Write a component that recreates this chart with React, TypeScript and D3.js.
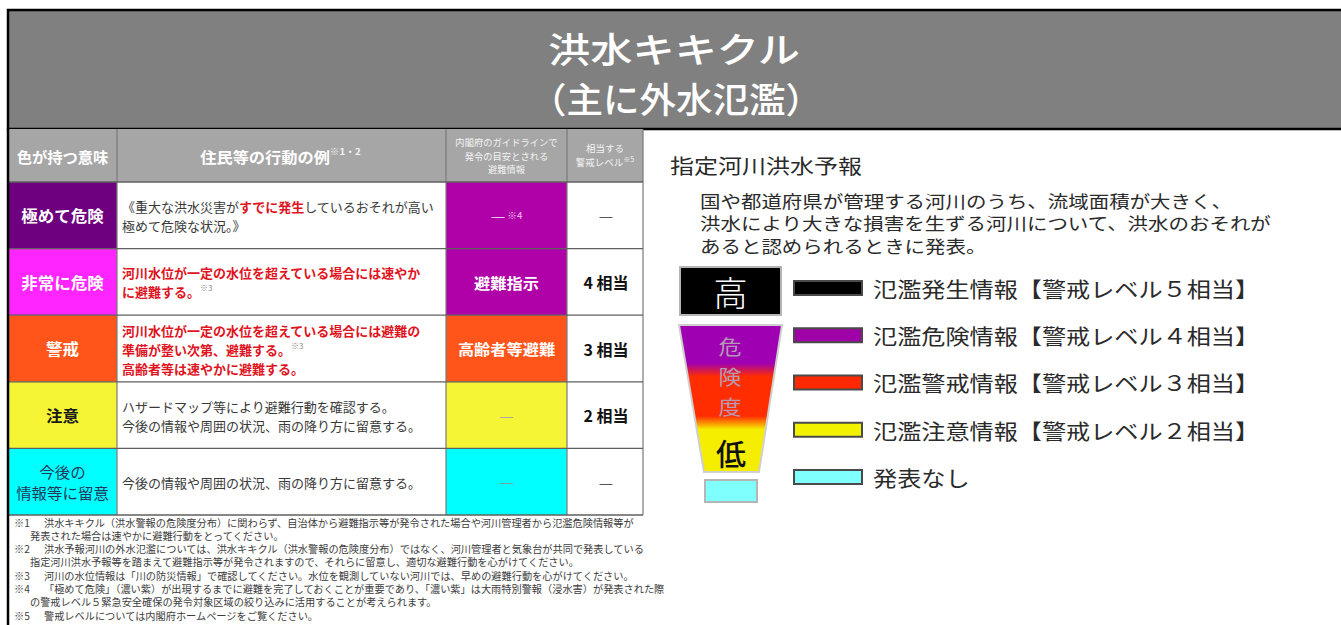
import React from 'react';
import * as d3 from 'd3';

const FONT = '"Noto Sans CJK JP", "Noto Sans CJK SC", "Noto Sans", sans-serif';

// ---------------- data ----------------
const TITLE = ['洪水キキクル', '（主に外水氾濫）'];

const HEAD_MEANING = '色が持つ意味';
const HEAD_ACTION = '住民等の行動の例';
const HEAD_ACTION_NOTE = '※1・2';
const HEAD_GUIDE = ['内閣府のガイドラインで', '発令の目安とされる', '避難情報'];
const HEAD_LEVEL = ['相当する', '警戒レベル'];
const HEAD_LEVEL_NOTE = '※5';

const MEANINGS = [['極めて危険'], ['非常に危険'], ['警戒'], ['注意'], ['今後の', '情報等に留意']];
const MEANING_FILL = ['#6e0080', '#ff25ff', '#ff541a', '#f5f536', '#00ffff'];
const MEANING_INK = ['#ffffff', '#ffffff', '#ffffff', '#1a1a1a', '#22385a'];
const MEANING_BOLD = [true, true, true, true, false];

type Seg = { t: string; k: 'n' | 'r' | 's' };
const ACTIONS: Seg[][][] = [
  [
    [{ t: '《重大な洪水災害が', k: 'n' }, { t: 'すでに発生', k: 'r' }, { t: 'しているおそれが高い', k: 'n' }],
    [{ t: '極めて危険な状況。》', k: 'n' }],
  ],
  [
    [{ t: '河川水位が一定の水位を超えている場合には速やか', k: 'r' }],
    [{ t: 'に避難する。', k: 'r' }, { t: '※3', k: 's' }],
  ],
  [
    [{ t: '河川水位が一定の水位を超えている場合には避難の', k: 'r' }],
    [{ t: '準備が整い次第、避難する。', k: 'r' }, { t: '※3', k: 's' }],
    [{ t: '高齢者等は速やかに避難する。', k: 'r' }],
  ],
  [
    [{ t: 'ハザードマップ等により避難行動を確認する。', k: 'n' }],
    [{ t: '今後の情報や周囲の状況、雨の降り方に留意する。', k: 'n' }],
  ],
  [[{ t: '今後の情報や周囲の状況、雨の降り方に留意する。', k: 'n' }]],
];

const GUIDE = ['—', '避難指示', '高齢者等避難', '—', '—'];
const GUIDE_NOTE = ['※4', '', '', '', ''];
const GUIDE_FILL = ['#b000a8', '#b000a8', '#ff541a', '#f5f536', '#00ffff'];
const GUIDE_INK = ['#f2c6ef', '#ffffff', '#ffffff', '#a8a8a8', '#6fa6a6'];
const LEVELS = ['—', '4 相当', '3 相当', '2 相当', '—'];
const LEVEL_BOLD = [false, true, true, true, false];

const PANEL_TITLE = '指定河川洪水予報';
const PANEL_DESC = [
  '国や都道府県が管理する河川のうち、流域面積が大きく、',
  '洪水により大きな損害を生ずる河川について、洪水のおそれが',
  'あると認められるときに発表。',
];
const SCALE_HIGH = '高';
const SCALE_MID = ['危', '険', '度'];
const SCALE_LOW = '低';
const SCALE_STOPS = [
  { o: 0, c: '#9e00b2' },
  { o: 0.26, c: '#9e00b2' },
  { o: 0.35, c: '#ff2d00' },
  { o: 0.62, c: '#ff2d00' },
  { o: 0.71, c: '#f6ee00' },
  { o: 1, c: '#f6ee00' },
];
const LEGEND_LABELS = [
  '氾濫発生情報【警戒レベル５相当】',
  '氾濫危険情報【警戒レベル４相当】',
  '氾濫警戒情報【警戒レベル３相当】',
  '氾濫注意情報【警戒レベル２相当】',
  '発表なし',
];
const LEGEND_COLORS = ['#000000', '#a000a8', '#ff2800', '#f2f200', '#80ffff'];

const FOOTNOTES = [
  { mark: '※1', lines: ['洪水キキクル（洪水警報の危険度分布）に関わらず、自治体から避難指示等が発令された場合や河川管理者から氾濫危険情報等が', '発表された場合は速やかに避難行動をとってください。'] },
  { mark: '※2', lines: ['洪水予報河川の外水氾濫については、洪水キキクル（洪水警報の危険度分布）ではなく、河川管理者と気象台が共同で発表している', '指定河川洪水予報等を踏まえて避難指示等が発令されますので、それらに留意し、適切な避難行動を心がけてください。'] },
  { mark: '※3', lines: ['河川の水位情報は「川の防災情報」で確認してください。水位を観測していない河川では、早めの避難行動を心がけてください。'] },
  { mark: '※4', lines: ['「極めて危険」（濃い紫）が出現するまでに避難を完了しておくことが重要であり、「濃い紫」は大雨特別警報（浸水害）が発表された際', 'の警戒レベル５緊急安全確保の発令対象区域の絞り込みに活用することが考えられます。'] },
  { mark: '※5', lines: ['警戒レベルについては内閣府ホームページをご覧ください。'] },
];

// ---------------- helpers ----------------
type TProps = {
  x: number; y: number; size: number; sx?: number; anchor?: 'start' | 'middle' | 'end';
  weight?: number; fill?: string; children?: React.ReactNode; len?: number;
};
function T({ x, y, size, sx = 1, anchor = 'start', weight = 400, fill = '#222', children, len }: TProps) {
  return (
    <text
      transform={`translate(${x},${y}) scale(${sx},1)`}
      fontSize={size}
      fontFamily={FONT}
      fontWeight={weight}
      fill={fill}
      textAnchor={anchor}
      dominantBaseline="central"
      {...(len ? { textLength: len, lengthAdjust: 'spacingAndGlyphs' } : {})}
    >
      {children}
    </text>
  );
}

const W = 1341;
const H = 625;
const COLS = [8, 117, 446, 567, 643];
const HEAD_TOP = 129;
const HEAD_BOTTOM = 182;
const TABLE_BOTTOM = 515;

export default function App() {
  const rowY = d3.scaleBand<number>().domain(d3.range(MEANINGS.length)).range([HEAD_BOTTOM, TABLE_BOTTOM]);
  const colMid = (i: number) => (COLS[i] + COLS[i + 1]) / 2;
  const legendY = d3.scalePoint<number>().domain(d3.range(LEGEND_LABELS.length)).range([288, 477]);
  const descY = d3.scalePoint<number>().domain(d3.range(PANEL_DESC.length)).range([200, 245]);
  const midY = d3.scalePoint<number>().domain(d3.range(SCALE_MID.length)).range([346, 406]);

  const footLines: { mark: string; text: string }[] = [];
  FOOTNOTES.forEach((f) => f.lines.forEach((l, i) => footLines.push({ mark: i === 0 ? f.mark : '', text: l })));
  const footY = d3.scaleLinear().domain([0, footLines.length - 1]).range([522, 615]);

  const rowH = rowY.bandwidth();
  const lineGap = 19;

  return (
    <svg width={W} height={H} style={{ position: 'absolute', left: 0, top: 0, background: '#fff' }}>
      <defs>
        <linearGradient id="danger" x1="0" y1="0" x2="0" y2="1">
          {SCALE_STOPS.map((s, i) => (
            <stop key={i} offset={s.o} stopColor={s.c} />
          ))}
        </linearGradient>
      </defs>
      <rect x={0} y={0} width={W} height={H} fill="#fff" />

      {/* title band */}
      <rect x={8} y={10} width={W + 10} height={119} fill="#808080" stroke="#000" strokeWidth={2.5} />
      <T x={674} y={47} size={35} weight={500} fill="#fff" anchor="middle" len={252}>{TITLE[0]}</T>
      <T x={676} y={97} size={35} weight={500} fill="#fff" anchor="middle" len={292}>{TITLE[1]}</T>

      {/* table header */}
      <rect x={COLS[0]} y={HEAD_TOP} width={COLS[4] - COLS[0]} height={HEAD_BOTTOM - HEAD_TOP} fill="#a6a6a6" />
      <T x={colMid(0)} y={156} size={15} weight={700} fill="#fff" anchor="middle" sx={1.02}>{HEAD_MEANING}</T>
      <T x={colMid(1) - 1} y={156} size={15} weight={700} fill="#fff" anchor="middle" sx={1.08}>
        {HEAD_ACTION}
        <tspan fontSize={9} dy={-5} fill="#f4f4f4">{HEAD_ACTION_NOTE}</tspan>
      </T>
      {HEAD_GUIDE.map((l, i) => (
        <T key={i} x={colMid(2)} y={142 + i * 13.5} size={9.3} fill="#f4f4f4" anchor="middle">{l}</T>
      ))}
      {HEAD_LEVEL.map((l, i) => (
        <T key={i} x={colMid(3)} y={148 + i * 14} size={9.5} fill="#f4f4f4" anchor="middle">
          {l}
          {i === HEAD_LEVEL.length - 1 && <tspan fontSize={7} dy={-3}>{HEAD_LEVEL_NOTE}</tspan>}
        </T>
      ))}

      {/* table rows */}
      {MEANINGS.map((m, r) => {
        const y0 = rowY(r)!;
        const cy = y0 + rowH / 2;
        const acts = ACTIONS[r];
        return (
          <g key={r}>
            <rect x={COLS[0]} y={y0} width={COLS[1] - COLS[0]} height={rowH} fill={MEANING_FILL[r]} />
            <rect x={COLS[1]} y={y0} width={COLS[2] - COLS[1]} height={rowH} fill="#fff" />
            <rect x={COLS[2]} y={y0} width={COLS[3] - COLS[2]} height={rowH} fill={GUIDE_FILL[r]} />
            <rect x={COLS[3]} y={y0} width={COLS[4] - COLS[3]} height={rowH} fill="#fff" />
            {m.map((l, i) => (
              <T
                key={i}
                x={colMid(0)}
                y={cy + (i - (m.length - 1) / 2) * 21}
                size={MEANING_BOLD[r] ? 16 : 15}
                sx={1.03}
                weight={MEANING_BOLD[r] ? 700 : 400}
                fill={MEANING_INK[r]}
                anchor="middle"
              >
                {l}
              </T>
            ))}
            {acts.map((line, i) => (
              <T key={i} x={122} y={cy + (i - (acts.length - 1) / 2) * lineGap} size={13} sx={1.0} fill="#3a3a3a">
                {line.map((s, j) =>
                  s.k === 's' ? (
                    <tspan key={j} fontSize={8} dy={-4} fill="#8a8a8a" fontWeight={400}>{s.t}</tspan>
                  ) : (
                    <tspan key={j} fill={s.k === 'r' ? '#e0141e' : '#3a3a3a'} fontWeight={s.k === 'r' ? 700 : 400}>{s.t}</tspan>
                  )
                )}
              </T>
            ))}
            <T x={colMid(2)} y={cy} size={15} sx={1.08} weight={GUIDE[r] === '—' ? 400 : 700} fill={GUIDE_INK[r]} anchor="middle">
              {GUIDE[r]}
              {GUIDE_NOTE[r] && <tspan fontSize={9} dx={2}>{GUIDE_NOTE[r]}</tspan>}
            </T>
            <T x={colMid(3) + 1} y={cy} size={16} weight={LEVEL_BOLD[r] ? 700 : 400} fill={LEVEL_BOLD[r] ? '#111' : '#555'} anchor="middle">
              {LEVELS[r]}
            </T>
          </g>
        );
      })}

      {/* grid lines */}
      {COLS.slice(1).map((x, i) => (
        <line key={i} x1={x} x2={x} y1={HEAD_TOP} y2={TABLE_BOTTOM} stroke="#7a7a7a" strokeWidth={1.2} />
      ))}
      {[HEAD_BOTTOM, ...d3.range(1, MEANINGS.length).map((i) => rowY(i)!), TABLE_BOTTOM].map((y, i) => (
        <line key={i} x1={COLS[0]} x2={COLS[4]} y1={y} y2={y} stroke="#5f5f5f" strokeWidth={1.3} />
      ))}
      <line x1={8} x2={8} y1={HEAD_TOP} y2={H} stroke="#000" strokeWidth={2.5} />

      {/* footnotes */}
      {footLines.map((f, i) => (
        <g key={i}>
          {f.mark && <T x={14} y={footY(i)} size={10.2} fill="#3c3c3c">{f.mark}</T>}
          <T x={f.mark ? 44 : 30} y={footY(i)} size={10.2} sx={1.0} fill="#3c3c3c">{f.text}</T>
        </g>
      ))}

      {/* right panel */}
      <T x={670} y={165} size={20} sx={1.2} fill="#2a2a2a">{PANEL_TITLE}</T>
      {PANEL_DESC.map((l, i) => (
        <T key={i} x={700} y={descY(i)!} size={17.5} sx={1.17} fill="#2a2a2a">{l}</T>
      ))}

      {/* danger scale */}
      <rect x={680} y={267} width={101} height={48} fill="#000" stroke="#b5b5b5" strokeWidth={2} />
      <T x={730.5} y={291} size={34} weight={300} fill="#fff" anchor="middle">{SCALE_HIGH}</T>
      <path d="M679,325 L782,325 L759,472 L704,472 Z" fill="url(#danger)" stroke="#cfcfcf" strokeWidth={2} />
      {SCALE_MID.map((c, i) => (
        <T key={i} x={730} y={midY(i)!} size={20} sx={1.15} fill="#b59ab5" anchor="middle">{c}</T>
      ))}
      <T x={731} y={452} size={30} weight={500} fill="#111" anchor="middle">{SCALE_LOW}</T>
      <rect x={705} y={480} width={52} height={22} fill="#80ffff" stroke="#b5b5b5" strokeWidth={2} />

      {/* legend */}
      {LEGEND_LABELS.map((l, i) => (
        <g key={i}>
          <rect x={794} y={legendY(i)! - 7} width={68} height={14} fill={LEGEND_COLORS[i]} stroke="#4a4a4a" strokeWidth={2} />
          <T x={873} y={legendY(i)!} size={21} sx={1.15} fill="#2a2a2a">{l}</T>
        </g>
      ))}
    </svg>
  );
}
